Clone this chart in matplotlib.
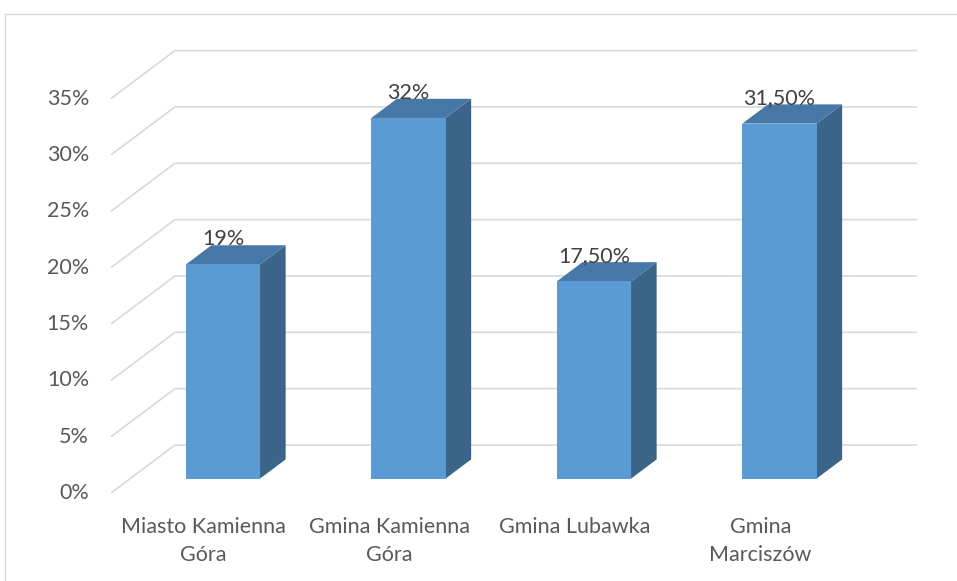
import matplotlib
matplotlib.use('Agg')
import matplotlib.pyplot as plt
from matplotlib.patches import Polygon, Rectangle

# ---- data ----
categories = ['Miasto Kamienna\nGóra', 'Gmina Kamienna\nGóra', 'Gmina Lubawka', 'Gmina\nMarciszów']
values = [19.0, 32.0, 17.5, 31.5]
value_labels = ['19%', '32%', '17,50%', '31,50%']
yticks = [0, 5, 10, 15, 20, 25, 30, 35]
ytick_labels = ['0%', '5%', '10%', '15%', '20%', '25%', '30%', '35%']

# ---- layout / style ----
W, H = 957, 581
FONT = ['Lato', 'DejaVu Sans']
FS = 15.5
GRID = '#D9D9D9'
FRONT = '#5B9BD5'
TOP = '#4677A6'
SIDE = '#3A6488'

fig = plt.figure(figsize=(W / 100, H / 100), dpi=100)
ax = fig.add_axes([0, 0, 1, 1])
ax.axis('off')

px_x0, px_x1 = 111, 853      # front floor edge (pixels)
px_y0 = 493                  # 0% on front edge (pixels from top)
ppp = 11.27                  # pixels per percent
ncat = len(categories)
sx = (px_x1 - px_x0) / ncat  # pixels per category
ax.set_xlim(-px_x0 / sx, (W - px_x0) / sx)
ax.set_ylim(-(H - px_y0) / ppp, px_y0 / ppp)

DX = 64 / sx                 # depth offset in data units
DY = 48 / ppp
f0, f1 = 0.30, 0.70          # bar depth range
bw = 0.4

# gridlines: side wall diagonals + back wall
for v in yticks:
    ax.plot([0, DX, ncat + DX], [v, v + DY, v + DY], color=GRID, lw=1.2,
            solid_capstyle='butt', zorder=1)

# y tick labels
for v, t in zip(yticks, ytick_labels):
    ax.text((89 - px_x0) / sx, v, t, ha='right', va='center', fontsize=FS,
            family=FONT, color='#595959')

# category labels
for i, c in enumerate(categories):
    ax.text(i + 0.5, -(517 - px_y0) / ppp, c, ha='center', va='top', fontsize=FS,
            family=FONT, color='#595959', linespacing=1.5)

# bars
dDX = (f1 - f0) * DX
dDY = (f1 - f0) * DY
for i, (v, lab) in enumerate(zip(values, value_labels)):
    x0 = i + 0.5 - bw / 2 + f0 * DX
    x1 = x0 + bw
    yb = f0 * DY
    yt = v + f0 * DY
    side = Polygon([(x1, yb), (x1 + dDX, yb + dDY), (x1 + dDX, yt + dDY), (x1, yt)],
                   closed=True, facecolor=SIDE, edgecolor='none', zorder=3)
    top = Polygon([(x0, yt), (x1, yt), (x1 + dDX, yt + dDY), (x0 + dDX, yt + dDY)],
                  closed=True, facecolor=TOP, edgecolor='none', zorder=3)
    front = Rectangle((x0, yb), bw, v, facecolor=FRONT, edgecolor='none', zorder=4)
    ax.add_patch(side)
    ax.add_patch(top)
    ax.add_patch(front)
    ax.text(x0 + bw / 2, yt + dDY + 6 / ppp, lab, ha='center', va='center',
            fontsize=FS, family=FONT, color='#404040', zorder=5)

# chart area border
fig.patches.append(Rectangle((5 / W, -0.1), 2, (H - 14) / H + 0.1,
                             transform=fig.transFigure, fill=False,
                             edgecolor=GRID, lw=1.0))

fig.savefig('out.png', dpi=100, facecolor='white')
